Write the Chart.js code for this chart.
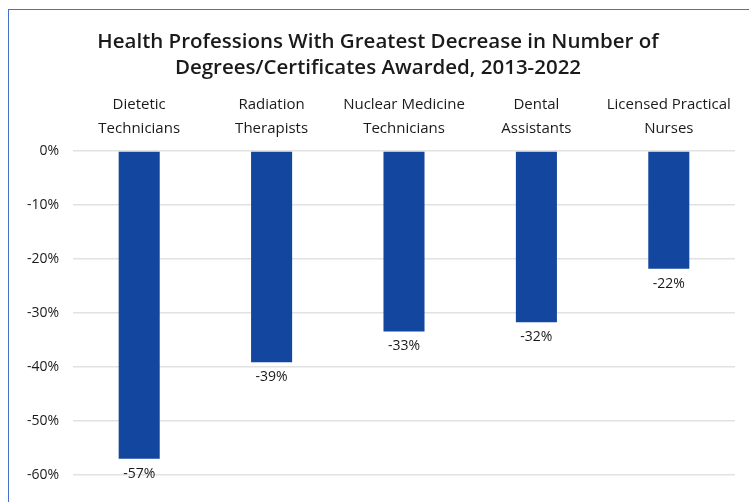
<!DOCTYPE html>
<html>
<head>
<meta charset="utf-8">
<script src="https://cdn.jsdelivr.net/npm/chart.js@4/dist/chart.umd.min.js"></script>
<style>
  body { margin: 0; background: #fff; overflow: hidden; }
  #wrap { position: relative; width: 749px; height: 502px; }
  #frame { position: absolute; left: 8px; top: 9px; width: 760px; height: 520px;
           border-top: 1px solid #4472c4; border-left: 1px solid #4472c4; }
  canvas { position: absolute; left: 0; top: 0; }
</style>
</head>
<body>
<div id="wrap">
  <div id="frame"></div>
  <canvas id="myChart" width="749" height="502"></canvas>
</div>
<script>
// chart data
const categories = [
  ['Dietetic', 'Technicians'],
  ['Radiation', 'Therapists'],
  ['Nuclear Medicine', 'Technicians'],
  ['Dental', 'Assistants'],
  ['Licensed Practical', 'Nurses']
];
const changePct = [-57.0, -39.1, -33.4, -31.7, -21.8];
const yTicks = [0, -10, -20, -30, -40, -50, -60];

const textColor = '#1a1a1a';
const barColor = '#13469e';

// labels under each bar end
const barLabels = {
  id: 'barLabels',
  afterDatasetsDraw(chart) {
    const ctx = chart.ctx;
    const meta = chart.getDatasetMeta(0);
    ctx.save();
    ctx.font = '14px "Open Sans"';
    ctx.fillStyle = textColor;
    ctx.textAlign = 'center';
    ctx.textBaseline = 'middle';
    meta.data.forEach((bar, i) => {
      ctx.fillText(Math.round(changePct[i]) + '%', bar.x, bar.y + 15);
    });
    ctx.restore();
  }
};

const ctx = document.getElementById('myChart').getContext('2d');
const chart = new Chart(ctx, {
  type: 'bar',
  data: {
    labels: categories,
    datasets: [{
      data: changePct,
      backgroundColor: barColor,
      borderWidth: 0,
      barPercentage: 0.31,
      categoryPercentage: 1
    }]
  },
  options: {
    responsive: false,
    animation: false,
    layout: { padding: { left: 21, right: 14, top: 0, bottom: 27 } },
    plugins: {
      legend: { display: false },
      tooltip: { enabled: false },
      title: {
        display: true,
        text: ['Health Professions With Greatest Decrease in Number of', 'Degrees/Certificates Awarded, 2013-2022'],
        color: textColor,
        font: { family: 'Open Sans', size: 20.5, weight: 600, lineHeight: 1.27 },
        padding: { top: 29, bottom: 2 }
      }
    },
    scales: {
      x: {
        position: 'top',
        grid: { display: false, drawTicks: false },
        border: { display: false },
        ticks: {
          color: textColor,
          font: { family: 'Open Sans', size: 15, lineHeight: 1.6 },
          padding: 10,
          maxRotation: 0
        }
      },
      y: {
        min: -60,
        max: 0,
        afterFit(scale) { scale.width = 52; },
        afterBuildTicks(scale) { scale.ticks = yTicks.map(v => ({ value: v })); },
        grid: { color: '#e2e2e2', lineWidth: 1.5, drawTicks: false },
        border: { display: false },
        ticks: {
          color: textColor,
          font: { family: 'Open Sans', size: 14 },
          padding: 14,
          callback: v => v + '%'
        }
      }
    }
  },
  plugins: [barLabels]
});
</script>
</body>
</html>
